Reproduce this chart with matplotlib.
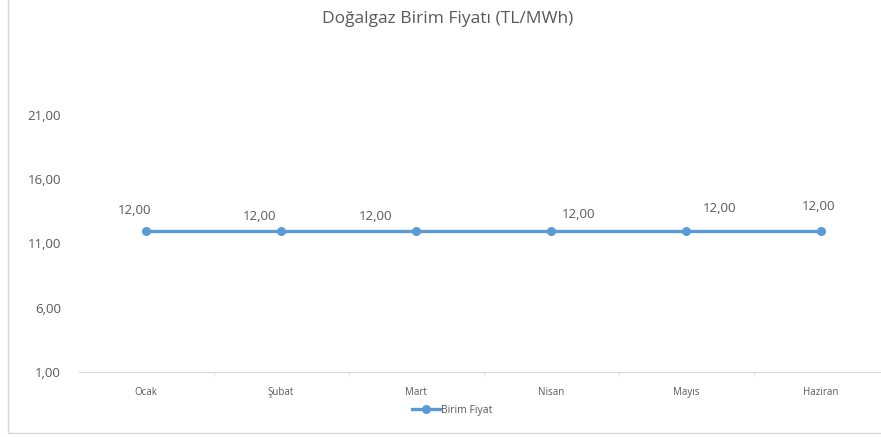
import matplotlib.pyplot as plt
import matplotlib.ticker as plticker
from matplotlib.patches import Rectangle

months = ['Ocak', 'Şubat', 'Mart', 'Nisan', 'Mayıs', 'Haziran']
price = [12.0, 12.0, 12.0, 12.0, 12.0, 12.0]
yticks = [1, 6, 11, 16, 21]

blue = '#5B9BD5'
grey = '#595959'
plt.rcParams['font.family'] = ['Open Sans', 'DejaVu Sans']

fig = plt.figure(figsize=(8.81, 4.37), dpi=100)
fig.patches.append(Rectangle((8 / 881, 4 / 437), 1.0, 1.0, transform=fig.transFigure,
                             fill=False, edgecolor='#D9D9D9', linewidth=1.0))

ax = fig.add_axes([78.5 / 881, 65 / 437, 810 / 881, 257 / 437])
x = list(range(len(months)))
ax.plot(x, price, color=blue, linewidth=2.4, marker='o', markersize=5.5, label='Birim Fiyat')

# label offsets (pixels) as they were dragged in the original
offsets = [(-11, 20), (-21, 14), (-40, 14), (28, 16), (34, 22), (-2, 24)]
for xi, v, (dx, dy) in zip(x, price, offsets):
    ax.annotate(f'{v:.2f}'.replace('.', ','), (xi, v), xytext=(dx * 0.72, dy * 0.72),
                textcoords='offset points', ha='center', va='center', fontsize=9.5, color=grey)

ax.set_xlim(-0.5, len(months) - 0.5)
ax.set_ylim(1, 21)
ax.set_yticks(yticks)
ax.yaxis.set_major_formatter(plticker.FuncFormatter(lambda v, p: f'{v:.2f}'.replace('.', ',')))
ax.set_xticks(x)
ax.set_xticklabels(months)
ax.set_xticks([i + 0.5 for i in x], minor=True)
ax.tick_params(axis='y', length=0, labelsize=9.5, labelcolor=grey, pad=12.5)
ax.tick_params(axis='x', which='major', length=0, labelsize=7, labelcolor=grey, pad=11)
ax.tick_params(axis='x', which='minor', length=3, color='#D9D9D9')
for s in ['top', 'right', 'left']:
    ax.spines[s].set_visible(False)
ax.spines['bottom'].set_color('#D9D9D9')
ax.patch.set_alpha(0)

fig.text(448 / 881, 1 - 19 / 437, 'Doğalgaz Birim Fiyatı (TL/MWh)', ha='center', va='center',
         fontsize=12.5, color=grey)

fig.legend(loc='center', bbox_to_anchor=(452 / 881, 1 - 410 / 437), frameon=False,
           fontsize=7.5, labelcolor=grey, handlelength=2.7, handletextpad=0.1)

fig.savefig('out.png', dpi=100)
